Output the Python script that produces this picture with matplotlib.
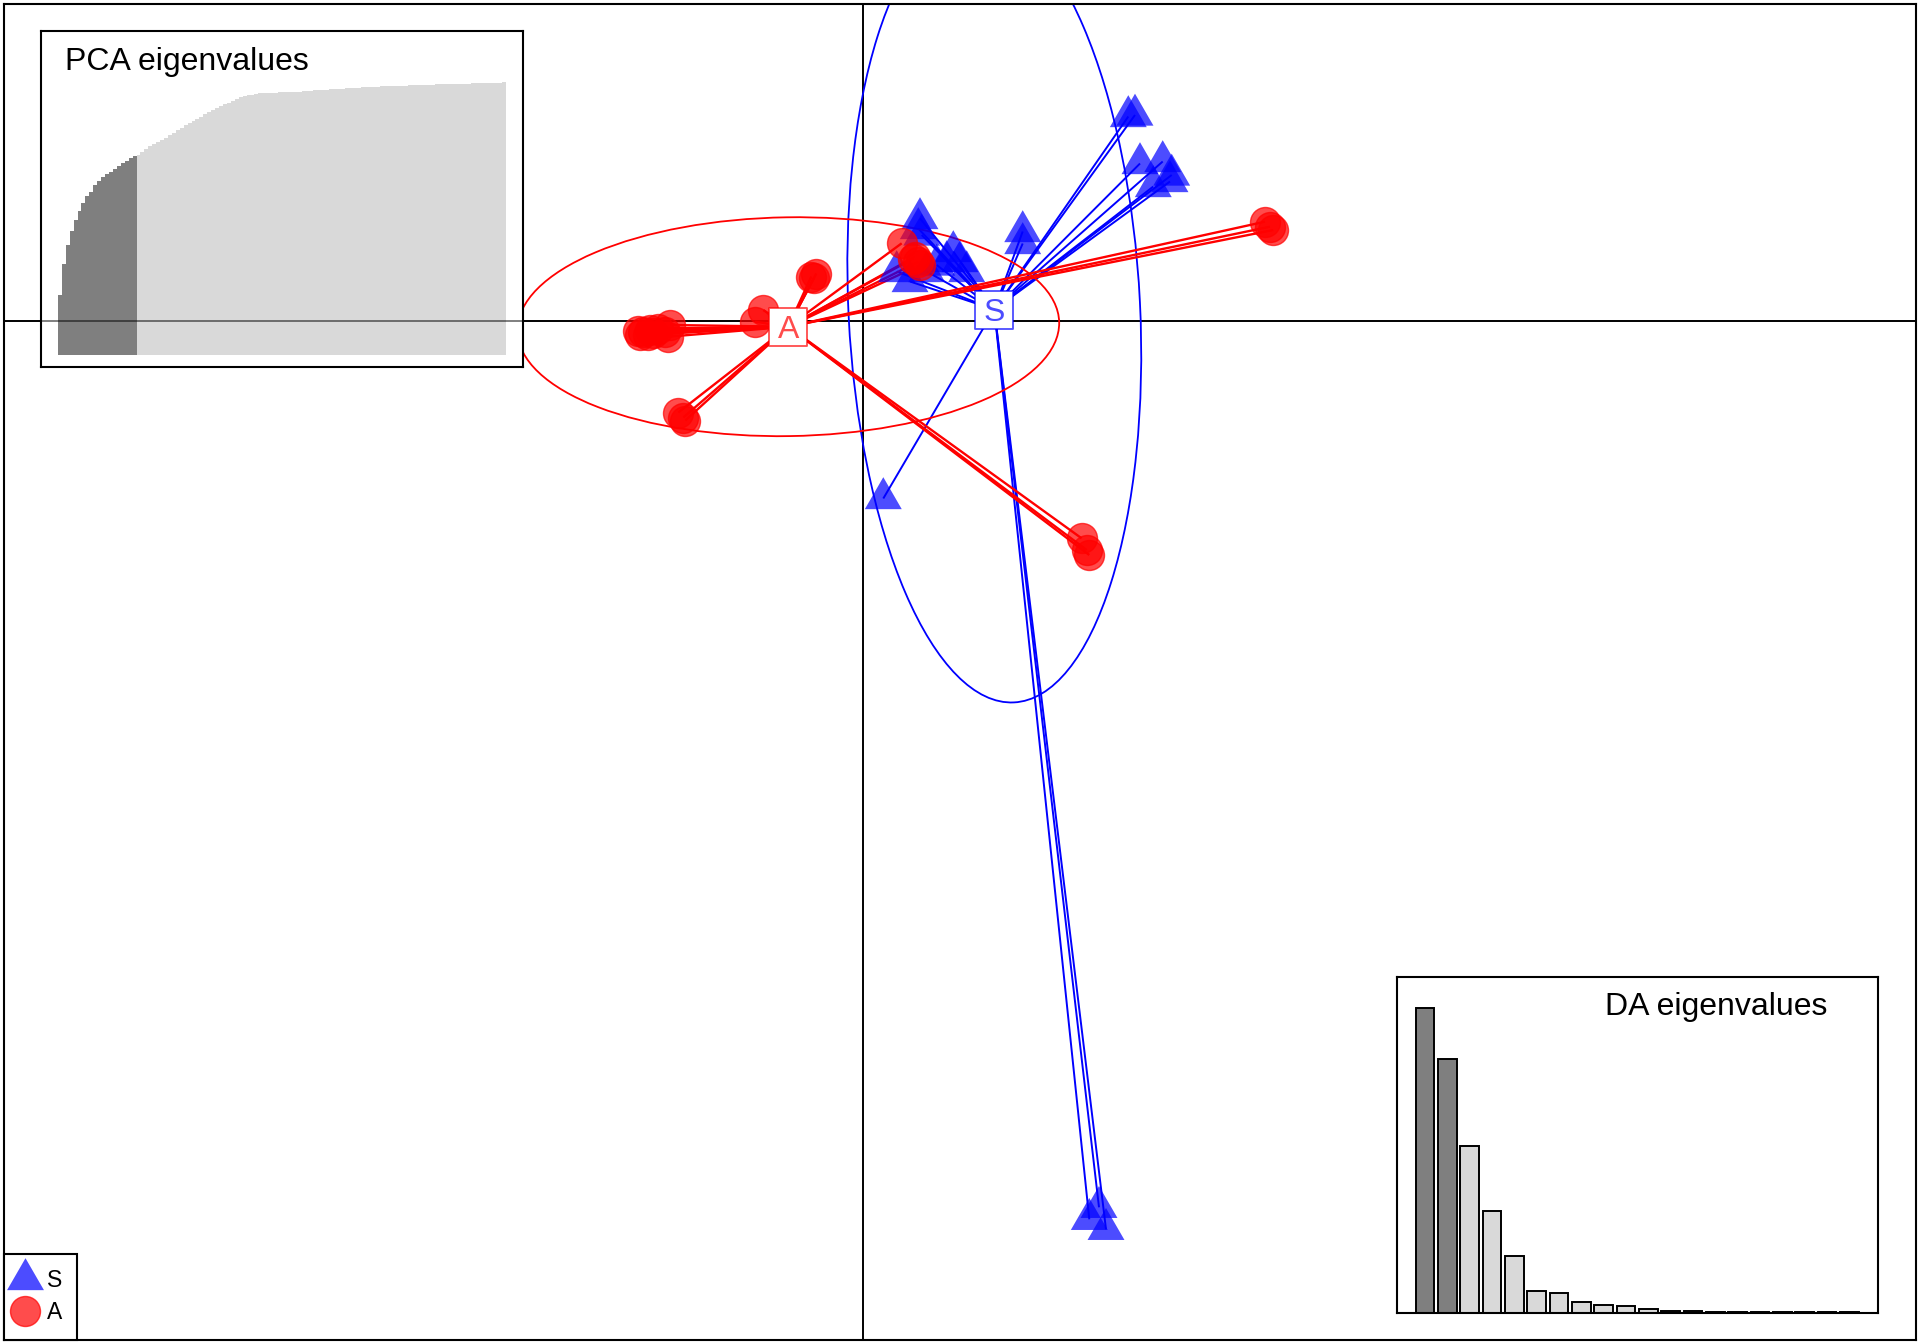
import matplotlib
matplotlib.use('Agg')
import matplotlib.pyplot as plt
import numpy as np
from matplotlib.patches import Ellipse
from matplotlib.lines import Line2D
from matplotlib.path import Path
import matplotlib.transforms as mtransforms

plt.rcParams['font.family'] = ['Liberation Sans', 'DejaVu Sans']

# ---------------- data ----------------
groups = ['S', 'A']
group_colors = {'S': '#0000FF', 'A': '#FF0000'}

# LD1 / LD2 scores of individuals
s_x = [0.567, 0.55, 0.584, 0.90, 0.967, 0.834, 0.334, 0.467, 0.634, 0.734, 1.034,
       1.594, 1.594, 2.65, 2.717, 2.767, 2.994, 3.084, 2.90, 3.067,
       0.20, 2.26, 2.357, 2.427]
s_y = [1.02, 0.92, 0.855, 0.69, 0.59, 0.59, 0.49, 0.39, 0.49, 0.555, 0.49,
       0.89, 0.77, 2.04, 2.055, 1.57, 1.59, 1.455, 1.34, 1.39,
       -1.78, -8.988, -8.868, -9.088]

a_x = [-2.20, -2.133, -1.933, -1.95, -2.233, -2.103, -2.05, -2.15, -1.98, -2.25,
       -1.0, -1.083,
       -0.52, -0.47, -0.49,
       -1.85, -1.80, -1.78,
       0.384, 0.517, 0.55, 0.567, 0.50,
       4.017, 4.10, 4.067,
       2.183, 2.234, 2.26]
a_y = [-0.112, -0.095, -0.045, -0.162, -0.145, -0.125, -0.08, -0.14, -0.11, -0.10,
       0.105, -0.012,
       0.44, 0.47, 0.43,
       -0.92, -0.97, -1.0,
       0.772, 0.638, 0.588, 0.555, 0.62,
       0.988, 0.905, 0.938,
       -2.178, -2.295, -2.345]

# group centroids
centroid_x = {'S': 1.31, 'A': -0.75}
centroid_y = {'S': 0.11, 'A': -0.062}

# inertia ellipses: semi-axes and rotation (degrees)
ell_a = {'S': 3.934, 'A': 2.709}
ell_b = {'S': 1.458, 'A': 1.094}
ell_angle = {'S': 92.87, 'A': 0.9}

# plot window
x_lim = (-8.593, 10.527)
y_lim = (-10.19, 3.165)

# PCA eigenvalues (cumulative %, 114 PCs, 20 retained)
pca_cum = [22.0, 33.4, 40.3, 45.6, 49.5, 52.8, 55.6, 58.3, 59.9, 62.3,
           63.9, 65.2, 66.3, 67.2, 68.2, 69.3, 70.3, 71.3, 72.1, 73.0,
           73.5, 74.6, 75.6, 76.6, 77.4, 78.1, 78.8, 79.5, 80.5, 81.5,
           82.5, 83.4, 84.3, 85.2, 85.9, 86.7, 87.4, 88.2, 89.0, 89.8,
           90.5, 91.2, 91.9, 92.5, 93.3, 94.0, 94.7, 95.1, 95.3, 95.5,
           95.7, 96.0,
           96.0, 96.1, 96.1, 96.2, 96.3, 96.3, 96.4, 96.5, 96.5, 96.6,
           96.7, 96.8, 96.9, 97.0, 97.1, 97.2, 97.3, 97.4,
           97.5, 97.6, 97.7, 97.8, 97.8, 97.9, 98.0, 98.1, 98.2,
           98.3, 98.3, 98.4, 98.5, 98.5, 98.6, 98.7, 98.7,
           98.8, 98.8, 98.9, 98.9, 98.9, 99.0, 99.0, 99.1, 99.1,
           99.2, 99.2, 99.3, 99.3, 99.4, 99.4, 99.5, 99.5,
           99.5, 99.6, 99.6, 99.7, 99.7, 99.8, 99.8, 99.9, 99.9, 100.0]
pca_retained = 20

# DA eigenvalues (20, 2 retained)
da_eig = [3.05, 2.533, 1.67, 1.017, 0.57, 0.217, 0.193, 0.11, 0.08, 0.063,
          0.04, 0.02, 0.013, 0.01, 0.01, 0.007, 0.007, 0.003, 0.003, 0.003]
da_retained = 2

# ---------------- figure ----------------
W, H = 1920, 1344
fig = plt.figure(figsize=(W / 100, H / 100), dpi=100)
ax = fig.add_axes([4 / W, 4.5 / H, 1912 / W, 1335.5 / H])
ax.set_xlim(*x_lim)
ax.set_ylim(*y_lim)
ax.set_xticks([])
ax.set_yticks([])
for sp in ax.spines.values():
    sp.set_linewidth(1.5)

ax.axhline(0, color='black', lw=1.4, zorder=1)
ax.axvline(0, color='black', lw=1.4, zorder=1)

# R-like filled triangle marker (centred at centroid)
tri = Path([(0, 1), (-0.866, -0.5), (0.866, -0.5), (0, 1)],
           [Path.MOVETO, Path.LINETO, Path.LINETO, Path.CLOSEPOLY])
alpha = 0.7
data = {'S': (s_x, s_y), 'A': (a_x, a_y)}
markers = {'S': tri, 'A': 'o'}
msize = {'S': 30.7, 'A': 21.6}
line_w = {'S': 1.4, 'A': 1.7}

for g in groups:
    col = group_colors[g]
    xs, ys = data[g]
    cx, cy = centroid_x[g], centroid_y[g]
    ell = Ellipse((cx, cy), width=2 * ell_a[g], height=2 * ell_b[g],
                  angle=ell_angle[g], fill=False, ec=col, lw=1.3, zorder=2)
    ax.add_patch(ell)
    for x, y in zip(xs, ys):
        ax.plot([cx, x], [cy, y], color=col, lw=line_w[g], zorder=2,
                solid_capstyle='butt')

for zo, g in zip([3, 4], groups):
    col = group_colors[g]
    xs, ys = data[g]
    if g == 'S':
        ax.scatter(xs, ys, marker=markers[g], s=msize[g] ** 2, color=col,
                   alpha=alpha, edgecolors='none', zorder=zo)
    else:
        ax.scatter(xs, ys, marker=markers[g], s=msize[g] ** 2, color=col,
                   alpha=alpha, edgecolors=col, linewidths=1.0, zorder=zo)

for g in groups:
    col = group_colors[g]
    cx, cy = centroid_x[g], centroid_y[g]
    ax.scatter([cx], [cy], marker='s', s=28 ** 2, facecolor='white',
               edgecolor=matplotlib.colors.to_rgba(col, alpha), linewidths=1.3,
               zorder=6)
    ax.annotate(g, xy=(cx, cy), xytext=(0, -8.2), textcoords='offset points',
                ha='center', va='baseline', fontsize=23,
                color=matplotlib.colors.to_rgba(col, alpha), zorder=7)

# legend
handles = [Line2D([], [], marker=markers[g], ms=msize[g], ls='none',
                  color=matplotlib.colors.to_rgba(group_colors[g], alpha),
                  mec=(matplotlib.colors.to_rgba(group_colors[g], alpha) if g == 'A' else 'none'),
                  mew=1.0)
           for g in groups]
leg = ax.legend(handles, groups, loc='lower left', borderaxespad=0,
                fancybox=False, edgecolor='black', framealpha=1,
                fontsize=16.5, handlelength=0.52, handletextpad=0.7,
                labelspacing=0.4, borderpad=0.66)
leg.get_frame().set_linewidth(1.5)
leg.set_zorder(10)

# PCA eigenvalues inset
axp = fig.add_axes([41.3 / W, 1 - 366.7 / H, 481.4 / W, 336 / H])
n = len(pca_cum)
xpos = 0.2 + 1.2 * np.arange(n) + 0.6
cols = ['#7F7F7F' if i < pca_retained else '#D9D9D9' for i in range(n)]
axp.bar(xpos, pca_cum, width=1.2, color=cols, edgecolor='none')
axp.set_xlim(-4.87, 142.1)
axp.set_ylim(-4.3, 118.9)
axp.set_xticks([])
axp.set_yticks([])
for sp in axp.spines.values():
    sp.set_linewidth(1.5)
axp.text(0.049, 0.883, 'PCA eigenvalues', transform=axp.transAxes,
         ha='left', va='baseline', fontsize=23)

# axis line seen through the PCA inset
blend = mtransforms.blended_transform_factory(axp.transAxes, ax.transData)
fig.add_artist(Line2D([0, 1], [0, 0], transform=blend, color='black',
                      alpha=0.5, lw=1.4))

# DA eigenvalues inset
axd = fig.add_axes([1397.3 / W, 1 - 1312.7 / H, 481 / W, 335.4 / H])
m = len(da_eig)
xd = 0.2 + 1.2 * np.arange(m) + 0.5
colsd = ['#7F7F7F' if i < da_retained else '#D9D9D9' for i in range(m)]
axd.bar(xd, da_eig, width=1.0, color=colsd, edgecolor='black', linewidth=1.4)
axd.set_xlim(-0.79, 25.06)
axd.set_ylim(0, 3.354)
axd.set_xticks([])
axd.set_yticks([])
for sp in axd.spines.values():
    sp.set_linewidth(1.5)
axd.text(0.432, 0.888, 'DA eigenvalues', transform=axd.transAxes,
         ha='left', va='baseline', fontsize=23)

fig.savefig('out.png', dpi=100)
